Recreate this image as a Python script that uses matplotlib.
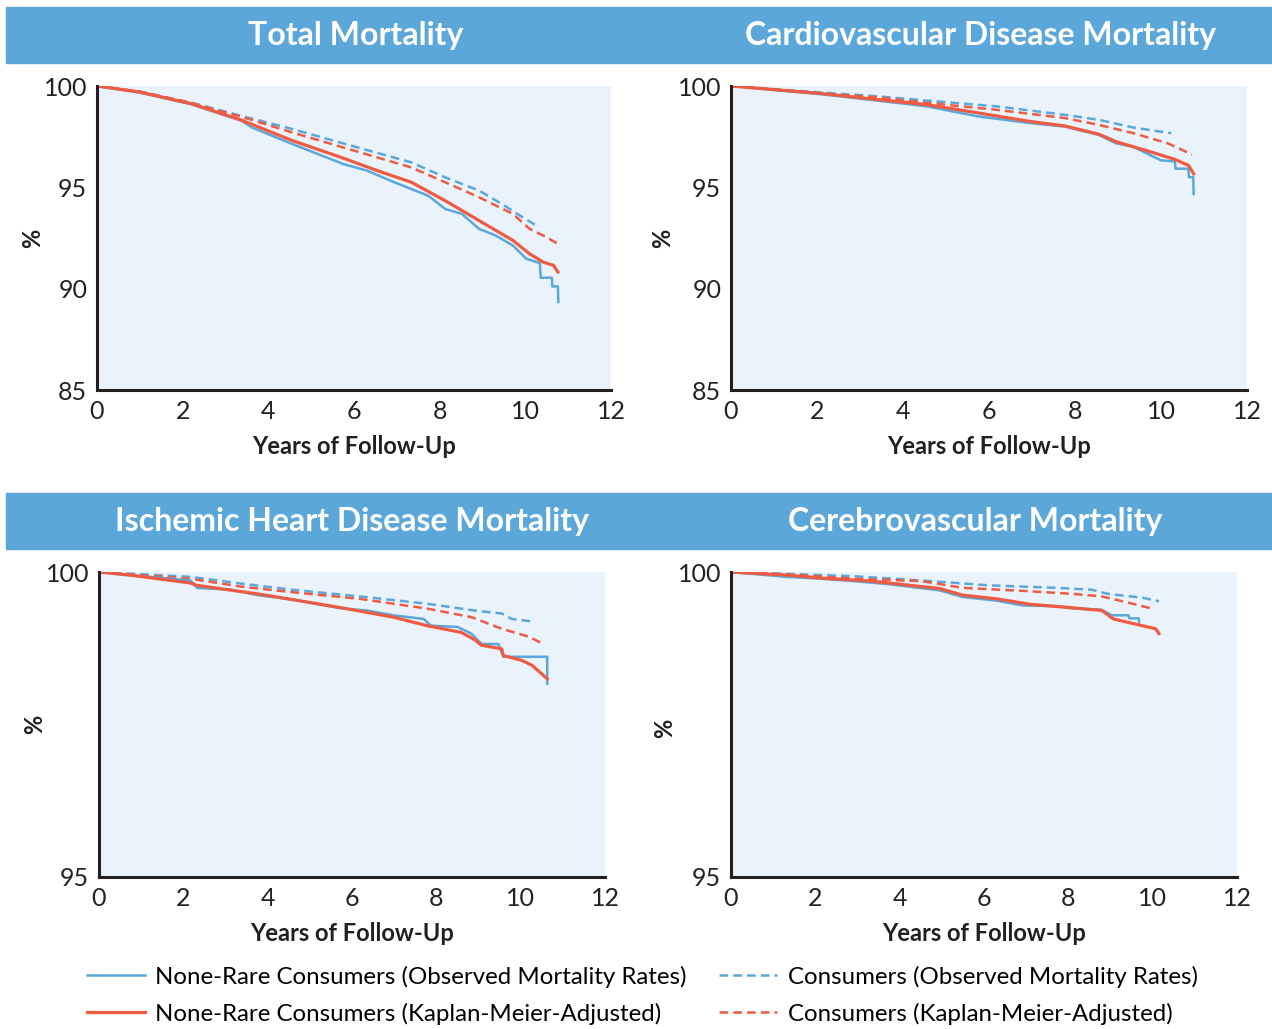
import matplotlib
matplotlib.use("Agg")
import matplotlib.pyplot as plt
from matplotlib.patches import Rectangle
from matplotlib.lines import Line2D

plt.rcParams["font.family"] = ["Lato", "DejaVu Sans"]

BLUE = "#5aa7dc"
RED = "#ef5b42"
BAR = "#5ba7da"
BG = "#eaf2fb"

titles = ["Total Mortality", "Cardiovascular Disease Mortality",
          "Ischemic Heart Disease Mortality", "Cerebrovascular Mortality"]
legend_labels = ["None-Rare Consumers (Observed Mortality Rates)",
                 "None-Rare Consumers (Kaplan-Meier-Adjusted)",
                 "Consumers (Observed Mortality Rates)",
                 "Consumers (Kaplan-Meier-Adjusted)"]
xticks = [0, 2, 4, 6, 8, 10, 12]
yticks_top = [85, 90, 95, 100]
yticks_bottom = [95, 100]

# Total mortality
tot_nr_obs_x = [0, 1.01, 2.2, 3.38, 3.62, 4.57, 5.75, 6.31, 6.94, 7.73, 8.13, 8.52, 8.92, 9.31, 9.71, 10.02, 10.34, 10.36, 10.62, 10.63, 10.76, 10.77]
tot_nr_obs_y = [100, 99.67, 99.1, 98.28, 97.95, 97.13, 96.15, 95.82, 95.25, 94.59, 93.93, 93.69, 92.95, 92.62, 92.13, 91.48, 91.26, 90.54, 90.54, 90.11, 90.11, 89.34]
tot_nr_km_x = [0, 1.0, 2.2, 3.38, 4.57, 5.75, 6.55, 7.34, 8.13, 8.92, 9.71, 10.1, 10.42, 10.66, 10.76]
tot_nr_km_y = [100, 99.7, 99.13, 98.31, 97.3, 96.44, 95.82, 95.25, 94.34, 93.36, 92.38, 91.72, 91.31, 91.15, 90.82]
tot_c_obs_x = [0, 1.0, 2.2, 3.38, 4.57, 6.15, 7.34, 8.13, 8.92, 9.55, 9.94, 10.26]
tot_c_obs_y = [100, 99.72, 99.18, 98.52, 97.87, 96.93, 96.23, 95.49, 94.84, 94.05, 93.52, 93.11]
tot_c_km_x = [0, 1.0, 2.2, 3.38, 4.57, 6.15, 7.34, 8.13, 8.92, 9.71, 10.1, 10.42, 10.76]
tot_c_km_y = [100, 99.72, 99.16, 98.48, 97.7, 96.72, 95.98, 95.25, 94.51, 93.69, 92.95, 92.62, 92.21]

# Cardiovascular disease mortality
cvd_nr_obs_x = [0, 2.15, 3.19, 4.55, 5.75, 6.96, 7.76, 8.56, 8.96, 9.36, 9.76, 10.0, 10.32, 10.34, 10.64, 10.65, 10.75, 10.76]
cvd_nr_obs_y = [100, 99.58, 99.33, 99.0, 98.5, 98.17, 98.0, 97.58, 97.17, 97.0, 96.58, 96.33, 96.28, 95.92, 95.92, 95.5, 95.5, 94.67]
cvd_nr_km_x = [0, 2.15, 3.19, 4.55, 5.75, 6.96, 7.76, 8.56, 8.96, 9.76, 10.32, 10.64, 10.76]
cvd_nr_km_y = [100, 99.62, 99.38, 99.08, 98.67, 98.25, 98.03, 97.62, 97.25, 96.75, 96.38, 96.08, 95.67]
cvd_c_obs_x = [0, 2.15, 3.35, 4.55, 6.15, 7.76, 8.56, 9.36, 10.24]
cvd_c_obs_y = [100, 99.67, 99.5, 99.28, 99.0, 98.58, 98.33, 97.95, 97.67]
cvd_c_km_x = [0, 2.15, 3.35, 4.55, 6.15, 7.76, 8.56, 9.36, 10.16, 10.72]
cvd_c_km_y = [100, 99.62, 99.45, 99.17, 98.83, 98.42, 98.08, 97.67, 97.17, 96.62]

# Ischemic heart disease mortality
ihd_nr_obs_x = [0, 0.72, 1.69, 2.17, 2.33, 3.13, 3.77, 4.57, 5.78, 6.34, 6.98, 7.7, 7.87, 8.5, 8.83, 9.07, 9.47, 9.59, 10.63, 10.63]
ihd_nr_obs_y = [100, 99.95, 99.89, 99.86, 99.74, 99.71, 99.62, 99.55, 99.4, 99.37, 99.29, 99.23, 99.12, 99.1, 98.99, 98.82, 98.82, 98.61, 98.61, 98.17]
ihd_nr_km_x = [0, 0.72, 2.17, 2.33, 3.77, 4.57, 5.78, 6.98, 7.78, 8.59, 8.91, 9.07, 9.55, 9.59, 10.03, 10.27, 10.63]
ihd_nr_km_y = [100, 99.95, 99.82, 99.78, 99.64, 99.55, 99.41, 99.26, 99.12, 99.01, 98.89, 98.8, 98.74, 98.63, 98.55, 98.47, 98.25]
ihd_c_obs_x = [0, 2.17, 3.37, 4.57, 6.18, 7.78, 8.99, 9.55, 9.79, 10.27]
ihd_c_obs_y = [100, 99.92, 99.81, 99.71, 99.6, 99.48, 99.36, 99.32, 99.23, 99.19]
ihd_c_km_x = [0, 2.17, 3.37, 4.57, 6.18, 7.78, 8.83, 9.55, 10.19, 10.51]
ihd_c_km_y = [100, 99.89, 99.76, 99.67, 99.56, 99.4, 99.26, 99.07, 98.94, 98.83]

# Cerebrovascular mortality
cer_nr_obs_x = [0, 1.32, 2.13, 2.93, 3.73, 4.94, 5.5, 6.3, 6.94, 7.74, 7.98, 8.79, 9.03, 9.43, 9.45, 9.67, 9.68]
cer_nr_obs_y = [100, 99.92, 99.89, 99.85, 99.8, 99.7, 99.59, 99.53, 99.45, 99.44, 99.41, 99.38, 99.29, 99.29, 99.24, 99.24, 99.18]
cer_nr_km_x = [0, 1.32, 2.13, 3.33, 4.94, 5.5, 6.3, 7.1, 7.98, 8.79, 9.07, 9.75, 10.07, 10.15]
cer_nr_km_y = [100, 99.95, 99.9, 99.85, 99.73, 99.62, 99.56, 99.47, 99.42, 99.37, 99.23, 99.12, 99.07, 98.99]
cer_c_obs_x = [0, 1.32, 2.93, 4.53, 5.34, 6.14, 7.74, 8.55, 8.95, 9.75, 10.15]
cer_c_obs_y = [100, 99.97, 99.93, 99.86, 99.82, 99.78, 99.74, 99.71, 99.64, 99.58, 99.52]
cer_c_km_x = [0, 1.32, 2.93, 4.53, 5.5, 6.94, 8.14, 8.79, 9.35, 9.99]
cer_c_km_y = [100, 99.96, 99.89, 99.85, 99.74, 99.69, 99.64, 99.6, 99.51, 99.4]

panels = [
    (tot_nr_obs_x, tot_nr_obs_y, tot_nr_km_x, tot_nr_km_y, tot_c_obs_x, tot_c_obs_y, tot_c_km_x, tot_c_km_y),
    (cvd_nr_obs_x, cvd_nr_obs_y, cvd_nr_km_x, cvd_nr_km_y, cvd_c_obs_x, cvd_c_obs_y, cvd_c_km_x, cvd_c_km_y),
    (ihd_nr_obs_x, ihd_nr_obs_y, ihd_nr_km_x, ihd_nr_km_y, ihd_c_obs_x, ihd_c_obs_y, ihd_c_km_x, ihd_c_km_y),
    (cer_nr_obs_x, cer_nr_obs_y, cer_nr_km_x, cer_nr_km_y, cer_c_obs_x, cer_c_obs_y, cer_c_km_x, cer_c_km_y),
]

W, H = 1272, 1029
fig = plt.figure(figsize=(W / 100, H / 100), dpi=100)


def frac(left, top, right, bottom):
    return [left / W, 1 - bottom / H, (right - left) / W, (bottom - top) / H]


# axes boxes in pixels: left, top, right, bottom
boxes = [(97, 86, 611, 390), (731, 86, 1247, 390), (99, 572, 605, 877), (731, 572, 1237, 877)]
# title bands
for top, bottom in [(7, 63), (493, 549)]:
    fig.patches.append(Rectangle((6 / W, 1 - bottom / H), (W - 6) / W, (bottom - top) / H,
                                 transform=fig.transFigure, color=BAR, zorder=0))
title_pos = [(356, 35), (980, 35), (352, 521), (975, 521)]
pct_pos = [(33, 238), (663, 238), (35, 724), (665, 728)]

dash = (0, (3.5, 2))
for i, (box, data) in enumerate(zip(boxes, panels)):
    ax = fig.add_axes(frac(*box))
    ax.set_facecolor(BG)
    nrox, nroy, nrkx, nrky, cox, coy, ckx, cky = data
    ax.plot(cox, coy, color=BLUE, lw=1.8, ls=dash)
    ax.plot(ckx, cky, color=RED, lw=1.8, ls=dash)
    ax.plot(nrox, nroy, color=BLUE, lw=1.8)
    ax.plot(nrkx, nrky, color=RED, lw=2.3)
    ax.set_xlim(0, 12)
    if i < 2:
        ax.set_ylim(85, 100)
        ax.set_yticks(yticks_top)
    else:
        ax.set_ylim(95, 100)
        ax.set_yticks(yticks_bottom)
    ax.set_xticks(xticks)
    ax.tick_params(length=0, labelsize=18, pad=7, colors="#222222")
    for s in ["top", "right"]:
        ax.spines[s].set_visible(False)
    for s in ["left", "bottom"]:
        ax.spines[s].set_linewidth(2.2)
        ax.spines[s].set_color("#231f20")
    ax.set_xlabel("Years of Follow-Up", fontsize=17, fontweight="bold", labelpad=9, color="#231f20")
    px, py = pct_pos[i]
    fig.text(px / W, 1 - py / H, "%", fontsize=17, fontweight="bold", color="#231f20",
             rotation=90, ha="center", va="center")
    tx, ty = title_pos[i]
    fig.text(tx / W, 1 - ty / H, titles[i], color="white", fontsize=23, fontweight="bold",
             ha="center", va="center")

handles = [Line2D([], [], color=BLUE, lw=1.8),
           Line2D([], [], color=RED, lw=2.3),
           Line2D([], [], color=BLUE, lw=1.8, ls=dash),
           Line2D([], [], color=RED, lw=1.8, ls=dash)]
fig.legend(handles, legend_labels, ncol=2, loc="center", bbox_to_anchor=(0.505, 1 - 995 / H),
           frameon=False, fontsize=17.3, handlelength=2.4, columnspacing=1.35, labelspacing=0.62,
           handletextpad=0.45)

fig.savefig("out.png", dpi=100)
